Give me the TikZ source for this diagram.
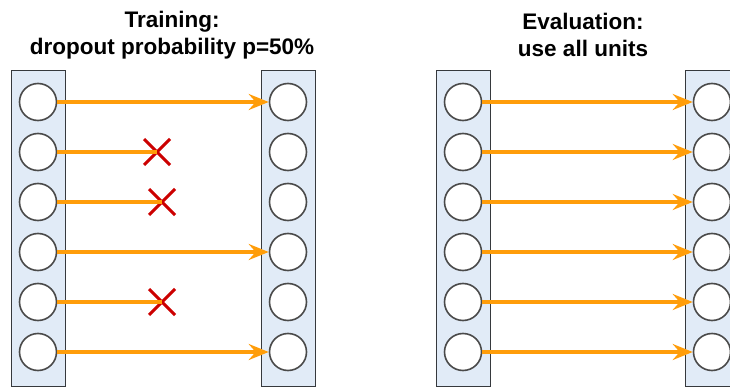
\documentclass[tikz,border=0pt]{standalone}
\usepackage{fontspec}
\setmainfont{Liberation Sans}
\usetikzlibrary{arrows.meta,shapes.misc}

\definecolor{layerfill}{HTML}{E1EBF7}
\definecolor{layerline}{HTML}{36393D}
\definecolor{unitline}{HTML}{4A4A4A}
\definecolor{linkcol}{HTML}{FF9D0A}
\definecolor{dropcol}{HTML}{CC0000}

\tikzset{
    layer/.style={draw=layerline,fill=layerfill,line width=1pt,
        minimum width=54pt,minimum height=315pt,inner sep=0pt},
    unit/.style={circle,draw=unitline,fill=white,line width=1.6pt,
        minimum size=37pt,inner sep=0pt},
    link/.style={draw=linkcol,line width=3.2pt},
    linkarrow/.style={link,-{Stealth[length=20pt,width=16pt,inset=7pt]}},
    dropmark/.style={cross out,draw=dropcol,line width=3pt,
        minimum size=23pt,inner sep=0pt},
    title/.style={font=\bfseries\fontsize{22.5}{27}\selectfont,align=center}
}

\begin{document}
\begin{tikzpicture}[x=1pt,y=-1pt]
    \useasboundingbox (0,0) rectangle (730,390);

    \node[title] (ttrain) at (172,35) {Training:\\dropout probability p=50\%};
    \node[title] (teval) at (583,35) {Evaluation:\\use all units};

    \node[layer] (inL) at (38,228.5) {};
    \node[layer] (outL) at (288,228.5) {};
    \node[layer] (inR) at (463,228.5) {};
    \node[layer] (outR) at (712,228.5) {};

    \foreach \i in {1,...,6}{
        \node[unit] (a\i) at (38,{52+50*\i}) {};
        \node[unit] (b\i) at (288,{52+50*\i}) {};
        \node[unit] (c\i) at (463,{52+50*\i}) {};
        \node[unit] (d\i) at (712,{52+50*\i}) {};
    }

    \node[dropmark] (x2) at (157,152) {};
    \node[dropmark] (x3) at (162,202) {};
    \node[dropmark] (x5) at (162,302) {};

    \foreach \i in {1,4,6}
        \draw[linkarrow] (a\i) -- (b\i);
    \foreach \i in {2,3,5}
        \draw[link] (a\i.east) -- (x\i.center);

    \foreach \i in {1,...,6}
        \draw[linkarrow] (c\i) -- (d\i);
\end{tikzpicture}
\end{document}
